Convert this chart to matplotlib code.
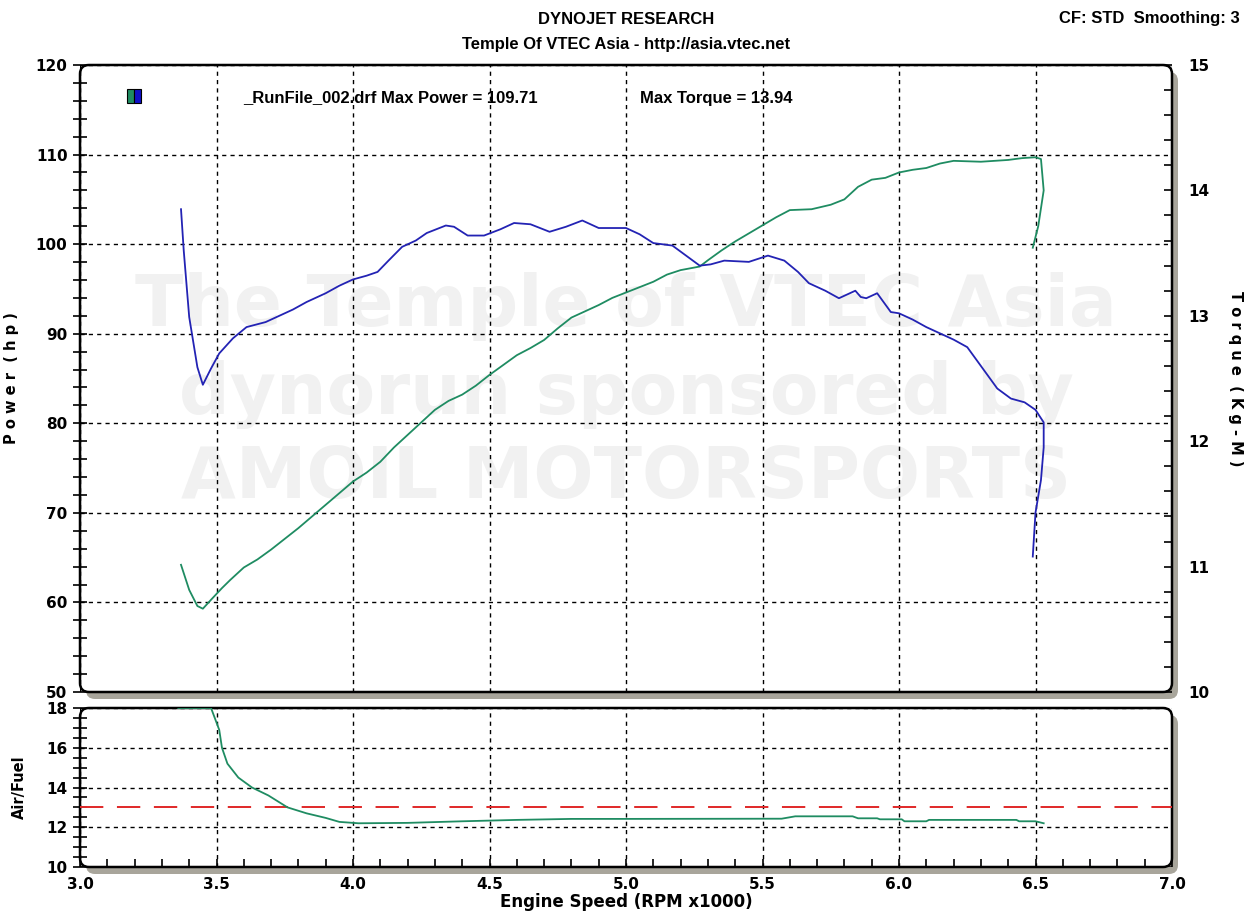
import numpy as np
import matplotlib
matplotlib.use("Agg")
import matplotlib.pyplot as plt
from matplotlib.patches import FancyBboxPatch, Rectangle
from matplotlib.transforms import IdentityTransform
from matplotlib.ticker import MultipleLocator

# power (hp) vs rpm x1000 -- green, left axis
pwr_rpm = [3.37, 3.40, 3.43, 3.45, 3.48, 3.52, 3.55, 3.60, 3.65, 3.70, 3.75, 3.80,
           3.85, 3.90, 3.95, 4.00, 4.05, 4.10, 4.15, 4.20, 4.25, 4.30, 4.35, 4.40,
           4.45, 4.50, 4.55, 4.60, 4.65, 4.70, 4.75, 4.80, 4.85, 4.90, 4.95, 5.00,
           5.05, 5.10, 5.15, 5.20, 5.27, 5.30, 5.35, 5.40, 5.45, 5.50, 5.55, 5.60,
           5.68, 5.75, 5.80, 5.85, 5.90, 5.95, 6.00, 6.05, 6.10, 6.15, 6.20, 6.30,
           6.40, 6.45, 6.50, 6.52, 6.53, 6.51, 6.49]
power = [64.2, 61.4, 59.6, 59.3, 60.3, 61.6, 62.5, 63.9, 64.8, 65.9, 67.1, 68.3,
         69.6, 70.9, 72.2, 73.5, 74.5, 75.7, 77.3, 78.7, 80.1, 81.5, 82.5, 83.2,
         84.2, 85.4, 86.5, 87.6, 88.4, 89.3, 90.6, 91.8, 92.5, 93.2, 94.0, 94.6,
         95.2, 95.8, 96.6, 97.1, 97.5, 98.2, 99.3, 100.3, 101.2, 102.1, 103.0, 103.8,
         103.9, 104.4, 105.0, 106.4, 107.2, 107.4, 108.0, 108.3, 108.5, 109.0, 109.3, 109.2,
         109.4, 109.6, 109.7, 109.5, 106.0, 102.0, 99.6]

# torque (Kg-M) vs rpm -- blue, right axis
trq_rpm = [3.37, 3.38, 3.40, 3.43, 3.45, 3.48, 3.51, 3.56, 3.61, 3.68, 3.73, 3.78,
           3.83, 3.90, 3.95, 4.00, 4.05, 4.09, 4.13, 4.18, 4.23, 4.27, 4.34, 4.37,
           4.42, 4.48, 4.54, 4.59, 4.65, 4.72, 4.78, 4.84, 4.90, 5.00, 5.05, 5.10,
           5.17, 5.22, 5.27, 5.31, 5.36, 5.45, 5.52, 5.58, 5.63, 5.67, 5.73, 5.78,
           5.84, 5.86, 5.88, 5.92, 5.97, 6.00, 6.05, 6.10, 6.15, 6.20, 6.25, 6.30,
           6.36, 6.41, 6.46, 6.50, 6.53, 6.53, 6.52, 6.50, 6.49]
torque = [13.85, 13.52, 12.99, 12.59, 12.45, 12.58, 12.70, 12.82, 12.91, 12.95, 13.00, 13.05,
          13.11, 13.18, 13.24, 13.29, 13.32, 13.35, 13.44, 13.55, 13.60, 13.66, 13.72, 13.71,
          13.64, 13.64, 13.69, 13.74, 13.73, 13.67, 13.71, 13.76, 13.70, 13.70, 13.65, 13.58,
          13.56, 13.48, 13.40, 13.41, 13.44, 13.43, 13.48, 13.44, 13.35, 13.26, 13.20, 13.14,
          13.20, 13.15, 13.14, 13.18, 13.03, 13.02, 12.97, 12.91, 12.86, 12.81, 12.75, 12.60,
          12.42, 12.34, 12.31, 12.25, 12.15, 11.95, 11.69, 11.43, 11.08]

# air/fuel ratio vs rpm
afr_rpm = [3.36, 3.48, 3.51, 3.52, 3.54, 3.58, 3.63, 3.69, 3.76, 3.83, 3.90, 3.95,
           4.02, 4.20, 4.40, 4.60, 4.80, 5.00, 5.57, 5.62, 5.83, 5.85, 5.92, 5.93,
           6.01, 6.02, 6.10, 6.11, 6.43, 6.44, 6.50, 6.53]
afr = [18.0, 18.0, 16.9, 16.0, 15.2, 14.5, 14.0, 13.6, 13.0, 12.7, 12.47, 12.27,
       12.2, 12.22, 12.3, 12.37, 12.42, 12.42, 12.43, 12.55, 12.55, 12.45, 12.45, 12.4,
       12.4, 12.3, 12.3, 12.37, 12.37, 12.3, 12.3, 12.2]
afr_target = 13.0

W, H = 1248, 916
fig = plt.figure(figsize=(W / 100, H / 100), dpi=100)
fig.patch.set_facecolor('white')

# panel boxes in image pixels (left, top, right, bottom)
main_box = (80, 65, 1172, 692)
low_box = (80, 708, 1172, 867)


def px_axes(box):
    l, t, r, b = box
    return fig.add_axes([l / W, (H - b) / H, (r - l) / W, (b - t) / H])


def frame(box):
    l, t, r, b = box
    sh = FancyBboxPatch((l + 6, H - b - 7), r - l, b - t, boxstyle='round,pad=0,rounding_size=9',
                        transform=IdentityTransform(), fc='#a8a59b', ec='none', zorder=-3)
    fr = FancyBboxPatch((l, H - b), r - l, b - t, boxstyle='round,pad=0,rounding_size=9',
                        transform=IdentityTransform(), fc='white', ec='black', lw=1.8, zorder=-2)
    fig.patches.extend([sh, fr])


frame(main_box)
frame(low_box)

tick_font = dict(family='DejaVu Sans', weight='bold', size=11)
lab_font = dict(family='DejaVu Sans', weight='bold', size=10.5)
blue = '#2323b4'
green = '#1f8c62'

ax = px_axes(main_box)
ax.set_facecolor('none')
for s in ax.spines.values():
    s.set_visible(False)
ax.set_xlim(3.0, 7.0)
ax.set_ylim(50, 120)
ax.yaxis.set_major_locator(MultipleLocator(10))
ax.yaxis.set_minor_locator(MultipleLocator(2))
ax.xaxis.set_major_locator(MultipleLocator(0.5))
ax.tick_params(axis='x', which='both', length=0, labelbottom=False)
ax.tick_params(axis='y', which='major', direction='inout', length=10, width=1.2, pad=4)
ax.tick_params(axis='y', which='minor', direction='inout', length=10, width=1.2)
for lab in ax.get_yticklabels():
    lab.set_fontproperties(matplotlib.font_manager.FontProperties(**tick_font))
ax.axvline(3.0, color='black', lw=1.5)
ax.grid(True, which='major', color='black', ls=(0, (3, 3)), lw=1)
ax.set_ylabel('P o w e r  ( h p )', fontdict=lab_font, labelpad=12)

# watermark
wm = dict(color='#f1f1f1', weight='bold', ha='center', va='center', fontsize=51,
          transform=ax.transAxes, zorder=0, family='DejaVu Sans')
ax.text(0.5, 0.615, 'The Temple of VTEC Asia', **wm)
ax.text(0.5, 0.475, 'dynorun sponsored by', **wm)
ax.text(0.5, 0.34, 'AMOIL MOTORSPORTS', **wm)

ax.plot(pwr_rpm, power, color=green, lw=1.3, zorder=3)

ax2 = ax.twinx()
for s in ax2.spines.values():
    s.set_visible(False)
ax2.set_ylim(10, 15)
ax2.yaxis.set_major_locator(MultipleLocator(1))
ax2.yaxis.set_minor_locator(MultipleLocator(0.2))
ax2.tick_params(axis='y', which='both', direction='in', length=6, width=1.2, pad=12)
for lab in ax2.get_yticklabels():
    lab.set_fontproperties(matplotlib.font_manager.FontProperties(**tick_font))
ax2.plot(trq_rpm, torque, color=blue, lw=1.3, zorder=3)
ax2.set_ylabel('T o r q u e  ( K g - M )', fontdict=lab_font, rotation=-90, labelpad=24)

# legend swatch + run info
sw_y = H - 103
fig.patches.append(Rectangle((127, sw_y), 7, 14, transform=IdentityTransform(),
                             fc=green, ec='black', lw=0.8, zorder=5))
fig.patches.append(Rectangle((134, sw_y), 7, 14, transform=IdentityTransform(),
                             fc='#1010c8', ec='black', lw=0.8, zorder=5))
info = dict(family='Liberation Sans', weight='bold', size=12, va='center', ha='left')
fig.text(243 / W, 1 - 98 / H, '_RunFile_002.drf Max Power = 109.71', **info)
fig.text(640 / W, 1 - 98 / H, 'Max Torque = 13.94', **info)

# lower panel: air/fuel
bx = px_axes(low_box)
bx.set_facecolor('none')
for s in bx.spines.values():
    s.set_visible(False)
bx.set_xlim(3.0, 7.0)
bx.set_ylim(10, 18)
bx.xaxis.set_major_locator(MultipleLocator(0.5))
bx.xaxis.set_minor_locator(MultipleLocator(0.1))
bx.yaxis.set_major_locator(MultipleLocator(2))
bx.yaxis.set_minor_locator(MultipleLocator(0.5))
bx.tick_params(axis='x', which='both', direction='in', length=6, width=1.2, pad=7)
bx.tick_params(axis='y', which='both', direction='inout', length=10, width=1.2, pad=4)
for lab in bx.get_xticklabels() + bx.get_yticklabels():
    lab.set_fontproperties(matplotlib.font_manager.FontProperties(**tick_font))
bx.xaxis.set_major_formatter(matplotlib.ticker.FormatStrFormatter('%.1f'))
bx.axvline(3.0, color='black', lw=1.5)
bx.axhline(10, color='black', lw=1.8)
bx.grid(True, which='major', color='black', ls=(0, (3, 3)), lw=1)
bx.set_axisbelow(True)
bx.axhline(afr_target, color='#e02828', lw=1.4, ls=(0, (12, 7)), zorder=2)
bx.plot(afr_rpm, afr, color=green, lw=1.3, zorder=3)
bx.set_ylabel('Air/Fuel', fontdict=lab_font, labelpad=14)
bx.set_xlabel('Engine Speed (RPM x1000)', fontdict=dict(family='DejaVu Sans', weight='bold', size=12),
              labelpad=1)

# headers
hdr = dict(family='Liberation Sans', weight='bold', size=12)
fig.text(626 / W, 1 - 20 / H, 'DYNOJET RESEARCH', ha='center', va='center', **hdr)
fig.text(626 / W, 1 - 44 / H, 'Temple Of VTEC Asia - http://asia.vtec.net', ha='center', va='center', **hdr)
fig.text(1240 / W, 1 - 18 / H, 'CF: STD  Smoothing: 3', ha='right', va='center', **hdr)

fig.savefig('out.png', dpi=100)
